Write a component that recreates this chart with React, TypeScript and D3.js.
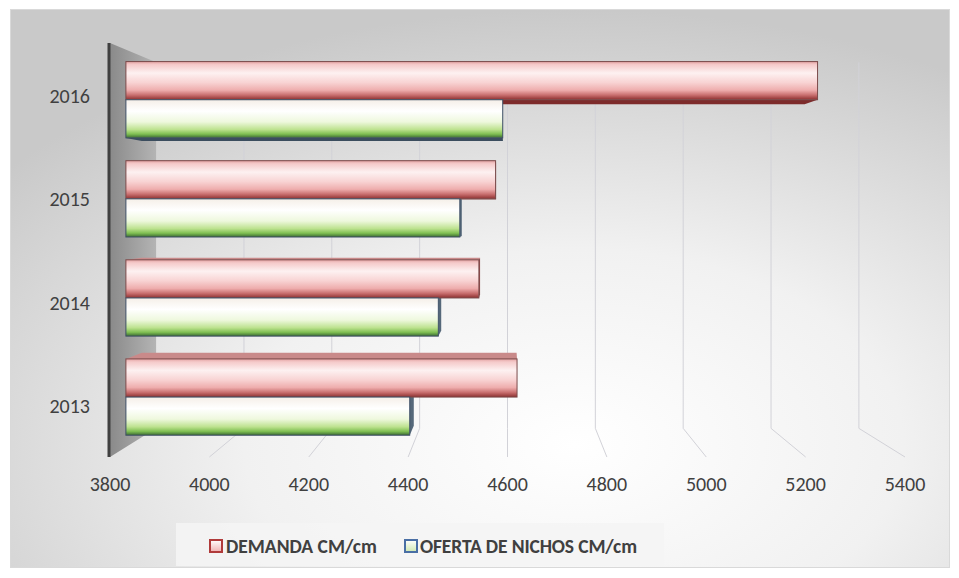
import React from 'react'
import * as d3 from 'd3'

// values
const years = ['2013', '2014', '2015', '2016']
const demanda = [4620, 4540, 4575, 5250]
const oferta = [4395, 4455, 4500, 4590]
const xTicks = [3800, 4000, 4200, 4400, 4600, 4800, 5000, 5200, 5400]
const seriesNames = ['DEMANDA CM/cm', 'OFERTA DE NICHOS CM/cm']

const W = 959
const H = 578
const VP = { x: 507.5, y: 210 } // vanishing point of the 3D view
const S_BACK = 0.884 // back wall depth factor
const S_BAR_F = 0.96 // bar front face
const S_BAR_B = 0.92 // bar back face
const FONT = 'Carlito, Lato, "Open Sans", sans-serif'

const proj = (x: number, y: number, s: number): [number, number] => [
  VP.x + (x - VP.x) * s,
  VP.y + (y - VP.y) * s
]
const poly = (pts: [number, number][]) => pts.map(p => p.join(',')).join(' ')

export default function App() {
  const xFront = d3.scaleLinear().domain([3800, 5400]).range([110, 905])
  const yFront = d3
    .scaleBand<string>()
    .domain([...years].reverse())
    .range([43, 457])
    .paddingInner(0.23)
    .paddingOuter(0.12)
  const sub = d3.scaleBand<string>().domain(['d', 'o']).range([0, yFront.bandwidth()])

  const top = 43
  const bottom = 457
  const x0 = xFront(3800)

  const bars = years.flatMap((yr, i) => [
    { key: `d${yr}`, s: 'd', y: yFront(yr)! + sub('d')!, v: demanda[i] },
    { key: `o${yr}`, s: 'o', y: yFront(yr)! + sub('o')!, v: oferta[i] }
  ])
  const bh = sub.bandwidth()

  const depthFaces = bars.map(b => {
    const xa = x0
    const xb = xFront(b.v)
    const ya = b.y
    const yb = b.y + bh
    const faces: JSX.Element[] = []
    const fill = b.s === 'd' ? '#7d2b2b' : '#3b4d5e'
    const f = (x: number, y: number) => proj(x, y, S_BAR_F)
    const k = (x: number, y: number) => proj(x, y, S_BAR_B)
    if (yb < VP.y) {
      faces.push(<polygon key={b.key + 'b'} points={poly([f(xa, yb), f(xb, yb), k(xb, yb), k(xa, yb)])} fill={fill} />)
    } else if (ya > VP.y) {
      faces.push(<polygon key={b.key + 't'} points={poly([f(xa, ya), f(xb, ya), k(xb, ya), k(xa, ya)])} fill={b.s === 'd' ? '#c98a8a' : '#b9c9a8'} />)
    }
    if (f(xb, ya)[0] < VP.x) {
      faces.push(<polygon key={b.key + 'r'} points={poly([f(xb, ya), k(xb, ya), k(xb, yb), f(xb, yb)])} fill={b.s === 'd' ? '#8e4a4a' : '#55687a'} />)
    }
    return faces
  })

  return (
    <div style={{ position: 'absolute', left: 0, top: 0 }}>
      <svg width={W} height={H} style={{ display: 'block' }}>
        <defs>
          <radialGradient id="bg" cx="0.6" cy="0.78" r="0.78">
            <stop offset="0" stopColor="#ffffff" />
            <stop offset="0.45" stopColor="#f1f1f1" />
            <stop offset="1" stopColor="#c9c9c9" />
          </radialGradient>
          <linearGradient id="wall" x1="0" y1="0" x2="1" y2="0">
            <stop offset="0" stopColor="#8a8a8a" />
            <stop offset="1" stopColor="#b4b4b4" />
          </linearGradient>
          <linearGradient id="gd" x1="0" y1="0" x2="0" y2="1">
            <stop offset="0" stopColor="#e3a3a3" />
            <stop offset="0.08" stopColor="#f5caca" />
            <stop offset="0.3" stopColor="#fdf1f1" />
            <stop offset="0.55" stopColor="#f8d3d3" />
            <stop offset="0.75" stopColor="#eeadad" />
            <stop offset="0.88" stopColor="#c86e6e" />
            <stop offset="1" stopColor="#8c3030" />
          </linearGradient>
          <linearGradient id="go" x1="0" y1="0" x2="0" y2="1">
            <stop offset="0" stopColor="#f5efe8" />
            <stop offset="0.3" stopColor="#ffffff" />
            <stop offset="0.58" stopColor="#eef8dd" />
            <stop offset="0.78" stopColor="#bde28f" />
            <stop offset="0.9" stopColor="#7fbf52" />
            <stop offset="1" stopColor="#3b6a33" />
          </linearGradient>
          <linearGradient id="ld" x1="0" y1="0" x2="0" y2="1">
            <stop offset="0" stopColor="#ffffff" />
            <stop offset="1" stopColor="#f0b0b0" />
          </linearGradient>
          <linearGradient id="lo" x1="0" y1="0" x2="0" y2="1">
            <stop offset="0" stopColor="#ffffff" />
            <stop offset="1" stopColor="#cfe8b0" />
          </linearGradient>
        </defs>

        <rect x={0} y={0} width={W} height={H} fill="#ffffff" />
        <rect x={10.5} y={9.5} width={939} height={558} fill="url(#bg)" stroke="#d9d9d9" />

        {/* gridlines: back wall + floor */}
        {xTicks.slice(1).map(t => {
          const xf = xFront(t)
          const a = proj(xf, top, S_BACK)
          const b = proj(xf, bottom, S_BACK)
          const c = proj(xf, bottom, 1)
          return (
            <polyline
              key={t}
              points={poly([a, b, c])}
              fill="none"
              stroke="#d2d2d8"
              strokeWidth={1}
            />
          )
        })}

        {/* left side wall */}
        <polygon
          points={poly([proj(x0, top, 1), proj(x0, top, S_BACK), proj(x0, bottom, S_BACK), proj(x0, bottom, 1)])}
          fill="url(#wall)"
        />
        <line x1={x0 - 1} y1={top} x2={x0 - 1} y2={bottom} stroke="#404040" strokeWidth={3} />

        {/* bars */}
        {depthFaces}
        {bars.map(b => {
          const [ax, ay] = proj(x0, b.y, S_BAR_F)
          const [bx, by] = proj(xFront(b.v), b.y + bh, S_BAR_F)
          return (
            <rect
              key={b.key}
              x={ax}
              y={ay}
              width={bx - ax}
              height={by - ay}
              fill={b.s === 'd' ? 'url(#gd)' : 'url(#go)'}
              stroke={b.s === 'd' ? '#7a4a4a' : '#3e4f66'}
              strokeWidth={1}
            />
          )
        })}

        {/* category labels */}
        {years.map(yr => (
          <text
            key={yr}
            x={90}
            y={yFront(yr)! + yFront.bandwidth() / 2 + 1}
            textAnchor="end"
            dominantBaseline="central"
            fontFamily={FONT}
            fontSize={20}
            fill="#404040"
          >
            {yr}
          </text>
        ))}

        {/* value axis labels */}
        {xTicks.map(t => (
          <text
            key={t}
            x={xFront(t)}
            y={484}
            textAnchor="middle"
            dominantBaseline="central"
            fontFamily={FONT}
            fontSize={20}
            fill="#404040"
          >
            {t}
          </text>
        ))}

        {/* legend */}
        <rect x={176} y={523} width={488} height={43} fill="#f4f4f4" opacity={0.85} />
        <rect x={210} y={540} width={12} height={12} fill="url(#ld)" stroke="#b03a3a" strokeWidth={2} />
        <text x={226} y={546} dominantBaseline="central" fontFamily={FONT} fontWeight="bold" fontSize={19.5} fill="#404040">
          {seriesNames[0]}
        </text>
        <rect x={405} y={540} width={12} height={12} fill="url(#lo)" stroke="#4a6fa5" strokeWidth={2} />
        <text x={420} y={546} dominantBaseline="central" fontFamily={FONT} fontWeight="bold" fontSize={19.5} fill="#404040" textLength={217}>
          {seriesNames[1]}
        </text>
      </svg>
    </div>
  )
}
